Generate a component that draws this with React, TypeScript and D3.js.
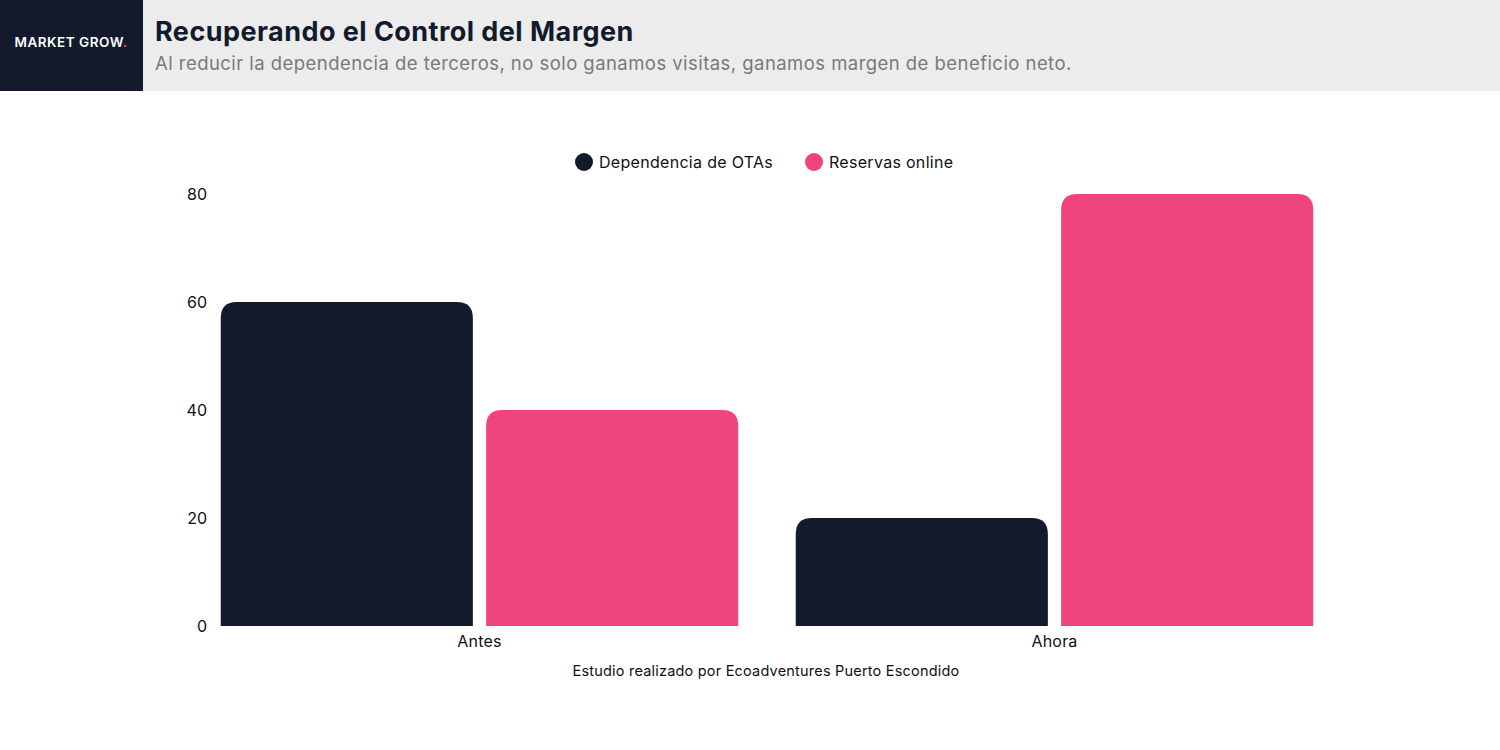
import React, { useEffect, useRef } from "react";
import * as d3 from "d3";

const categories = ["Antes", "Ahora"];
const seriesNames = ["Dependencia de OTAs", "Reservas online"];
const otas = [60, 20];
const online = [40, 80];
const yTicks = [0, 20, 40, 60, 80];
const colors = ["#131a2b", "#f0447c"];

const FONT = "Inter, 'Noto Sans', sans-serif";

export default function App() {
  const ref = useRef<SVGSVGElement | null>(null);
  useEffect(() => {
    const node = ref.current; if (!node) return;
    const W = 1500, H = 750;
    const svg = d3.select(node);
    svg.attr("viewBox", `0 0 ${W} ${H}`).selectAll("*").remove();

    // header band
    svg.append("rect").attr("x", 0).attr("y", 0).attr("width", W).attr("height", 91).attr("fill", "#ececec");
    svg.append("rect").attr("x", 0).attr("y", 0).attr("width", 143).attr("height", 91).attr("fill", "#131a2b");
    const logo = svg.append("text").attr("x", 71).attr("y", 47).attr("text-anchor", "middle")
      .attr("font-family", FONT).attr("font-size", 13.5).attr("font-weight", 600).attr("letter-spacing", 0.5).attr("fill", "#fff");
    logo.append("tspan").text("MARKET GROW");
    logo.append("tspan").attr("fill", "#f0447c").text(".");
    svg.append("text").attr("x", 155).attr("y", 41).attr("font-family", FONT).attr("font-size", 27)
      .attr("font-weight", 700).attr("letter-spacing", 0.45).attr("fill", "#131a2b").text("Recuperando el Control del Margen");
    svg.append("text").attr("x", 155).attr("y", 70).attr("font-family", FONT).attr("font-size", 18.5)
      .attr("letter-spacing", 0.45).attr("fill", "#7a7a7a")
      .text("Al reducir la dependencia de terceros, no solo ganamos visitas, ganamos margen de beneficio neto.");

    const x0 = d3.scaleBand().domain(categories).range([192, 1342]).paddingInner(0.1).paddingOuter(0.05);
    const x1 = d3.scaleBand().domain(seriesNames).range([0, x0.bandwidth()]).paddingInner(0.05);
    const y = d3.scaleLinear().domain([0, 80]).range([626, 194]);

    // y tick labels
    svg.append("g").selectAll("text").data(yTicks).join("text")
      .attr("x", 207).attr("y", (d) => y(d)).attr("dy", "0.35em").attr("text-anchor", "end")
      .attr("font-family", FONT).attr("font-size", 16).attr("fill", "#111").text((d) => String(d));

    const r = 16;
    const barPath = (x: number, w: number, top: number, bottom: number) => {
      const rr = Math.min(r, (bottom - top), w / 2);
      return `M${x},${bottom}V${top + rr}Q${x},${top} ${x + rr},${top}H${x + w - rr}Q${x + w},${top} ${x + w},${top + rr}V${bottom}Z`;
    };

    const rows = categories.flatMap((c, i) => [
      { c, s: seriesNames[0], v: otas[i], col: colors[0] },
      { c, s: seriesNames[1], v: online[i], col: colors[1] },
    ]);
    svg.append("g").selectAll("path").data(rows).join("path")
      .attr("fill", (d) => d.col)
      .attr("d", (d) => barPath((x0(d.c) || 0) + (x1(d.s) || 0), x1.bandwidth(), y(d.v), y(0)));

    // x labels
    svg.append("g").selectAll("text").data(categories).join("text")
      .attr("x", (d) => (x0(d) || 0) + x0.bandwidth() / 2).attr("y", 647).attr("text-anchor", "middle")
      .attr("font-family", FONT).attr("font-size", 16).attr("letter-spacing", 0.2).attr("fill", "#111").text((d) => d);

    svg.append("text").attr("x", 766).attr("y", 676).attr("text-anchor", "middle")
      .attr("font-family", FONT).attr("font-size", 14.5).attr("letter-spacing", 0.2).attr("fill", "#111")
      .text("Estudio realizado por Ecoadventures Puerto Escondido");

    // legend
    const legX = [584, 814];
    const lg = svg.append("g").selectAll("g").data(seriesNames).join("g")
      .attr("transform", (_d, i) => `translate(${legX[i]},162)`);
    lg.append("circle").attr("r", 9).attr("fill", (_d, i) => colors[i]);
    lg.append("text").attr("x", 15).attr("dy", "0.35em").attr("font-family", FONT).attr("font-size", 16)
      .attr("letter-spacing", 0.3).attr("fill", "#111").text((d) => d);
  }, []);
  return <svg ref={ref} width={1500} height={750} style={{ position: "absolute", left: 0, top: 0, display: "block" }} />;
}
